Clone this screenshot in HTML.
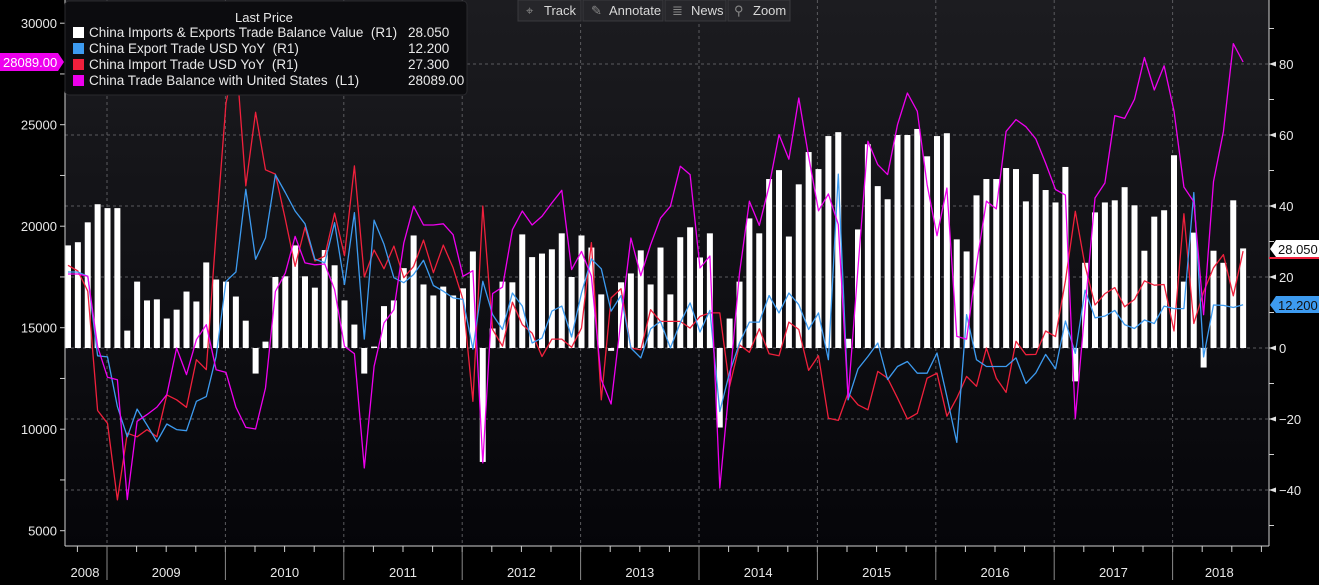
<!DOCTYPE html>
<html><head><meta charset="utf-8">
<style>
html,body{margin:0;padding:0;background:#000;}
body{width:1319px;height:580px;overflow:hidden;font-family:"Liberation Sans",sans-serif;}
svg text{font-family:"Liberation Sans",sans-serif;white-space:pre;}
</style></head>
<body>
<svg id="chart" width="1319" height="580" viewBox="0 0 1319 580" xmlns="http://www.w3.org/2000/svg">
<defs>
<linearGradient id="bg" x1="0" y1="0" x2="0" y2="1">
<stop offset="0" stop-color="#1c1c20"/><stop offset="1" stop-color="#050509"/>
</linearGradient>
</defs>
<rect x="65" y="0" width="1204" height="546" fill="url(#bg)"/>
<g id="grid"></g>
<g id="bars"></g>
<g id="lines"></g>
<g id="axes"></g>
<g>
<rect x="65" y="1" width="402" height="94" rx="4" fill="#0c0c0f" stroke="#2a2a2e"/>
<text x="235" y="22" fill="#e8e8e8" font-size="13">Last Price</text>
<rect x="73" y="27" width="11" height="11" fill="#ffffff"/>
<text x="89" y="37" fill="#e8e8e8" font-size="13.5">China Imports &amp; Exports Trade Balance Value  (R1)</text>
<text x="408" y="37" fill="#e8e8e8" font-size="13.5">28.050</text>
<rect x="73" y="43" width="11" height="11" fill="#3d9bf0"/>
<text x="89" y="53" fill="#e8e8e8" font-size="13.5">China Export Trade USD YoY  (R1)</text>
<text x="408" y="53" fill="#e8e8e8" font-size="13.5">12.200</text>
<rect x="73" y="59" width="11" height="11" fill="#f0203c"/>
<text x="89" y="69" fill="#e8e8e8" font-size="13.5">China Import Trade USD YoY  (R1)</text>
<text x="408" y="69" fill="#e8e8e8" font-size="13.5">27.300</text>
<rect x="73" y="75" width="11" height="11" fill="#ee00ee"/>
<text x="89" y="85" fill="#e8e8e8" font-size="13.5">China Trade Balance with United States  (L1)</text>
<text x="408" y="85" fill="#e8e8e8" font-size="13.5">28089.00</text>
</g>
<g font-size="13" fill="#d8d8d8">
<rect x="518" y="0" width="63" height="21" fill="#26262a" stroke="#3a3a3e"/>
<text x="526" y="15" fill="#888">⌖</text><text x="544" y="15">Track</text>
<rect x="583" y="0" width="80" height="21" fill="#26262a" stroke="#3a3a3e"/>
<text x="591" y="15" fill="#888">✎</text><text x="609" y="15">Annotate</text>
<rect x="665" y="0" width="61" height="21" fill="#26262a" stroke="#3a3a3e"/>
<text x="672" y="15" fill="#888">≣</text><text x="691" y="15">News</text>
<rect x="728" y="0" width="62" height="21" fill="#26262a" stroke="#3a3a3e"/>
<text x="734" y="15" fill="#888">⚲</text><text x="753" y="15">Zoom</text>
</g>
<g>
<polygon points="0,53 58,53 64,62 58,71 0,71" fill="#ee00ee"/>
<text x="3" y="67" fill="#ffffff" font-size="13">28089.00</text>
</g>
<g>
<line x1="1269" y1="258" x2="1319" y2="258" stroke="#f0203c" stroke-width="2"/>
<polygon points="1270,249 1276,240 1319,240 1319,257 1276,257" fill="#ffffff"/>
<text x="1278" y="254" fill="#111" font-size="13">28.050</text>
</g>
<g>
<polygon points="1270,305 1276,296 1319,296 1319,313 1276,313" fill="#3d9bf0"/>
<text x="1278" y="310" fill="#111" font-size="13">12.200</text>
</g>
</svg>
<script>
const barValues=[28.9,29.8,35.4,40.5,39.4,39.4,4.9,18.7,13.4,13.7,8.3,10.8,15.9,13.1,24.1,19.3,18.7,14.5,7.7,-7.2,1.8,20,20.2,28.9,20.2,
17,27.6,23.3,13.4,6.6,-7.2,0.4,11.8,13.4,22.5,31.7,17.9,14.8,17.3,14.8,16.8,27.2,-32.1,5.5,18.7,18.5,32,25.6,26.6,27.8,
32.3,20,31.7,28.3,15.1,-0.8,18.5,21,27.5,17.9,28.3,15.1,31.2,34,25.5,32.3,-22.4,8.3,18.7,36.5,32.3,47.6,50.1,31.4,
46.1,55.2,50.4,59.7,60.8,2.6,33.4,57.4,45.6,41.9,60,60,61.7,54,59.7,60.5,30.6,27.2,43,47.6,47.6,50.7,50.4,41.3,
49,44.5,41,51,-9.4,24,38.2,41,41.6,45.3,40.2,27.4,37,38.8,54.3,18.7,32.5,-5.5,27.4,24,41.6,28.05];
const importValues=[23.3,21.7,16,-17.6,-21.2,-42.8,-24,-25,-23,-25,-13.2,-14.6,-16.7,-3.3,-6.1,32.5,69,83,45.7,66.4,50.2,49,36.3,23,34,
24.5,25.9,38,26,51.3,20,27.6,22.3,28.7,19.8,23,30.4,21.2,29,22.6,13.6,-15,40,5.2,0.5,12.9,6.6,4.2,-2.4,2.5,
2.5,0.2,5.6,29.7,-14.6,14.1,16.7,0,-0.5,10.8,7.5,7.5,7.5,5.6,8.9,9.9,9.9,-10.8,0.9,-1.2,5.4,-1.6,-2.2,7.3,
5.2,-6.3,-2.2,-19.8,-20.4,-12.7,-16,-17.4,-6.6,-8.5,-14.1,-20,-18.4,-8.5,-7.1,-19.2,-14.1,-8,-10.8,0,-8.5,-12.5,1.9,-1.9,
-1.8,4.8,3.2,18.9,38.5,23.1,12.1,15.3,17,11.6,13.7,18.9,17.7,17.9,4.8,37.8,6.9,15.8,22.6,26.3,14.7,27.3];
const exportValues=[21.4,21.4,20.2,-2.2,-2.5,-16.5,-25,-17.2,-21.7,-26.4,-21.4,-23,-23.3,-15,-13.7,-2.4,18.8,21.4,44.7,25,31,48.8,43.8,38.6,35,
25,24,35.3,17.9,38.1,2.5,36,29.2,19.8,18.4,20.7,24.7,17.6,16,14.1,13.7,-0.3,18.8,9.4,5.2,15.5,11.8,1.4,2.8,10.4,
11.8,3.1,15.5,25.1,22.3,10.4,14.8,0,-2.8,5.4,7.5,0,7.1,12.7,4.5,10.6,-17.9,-6.9,1.4,7.3,7.3,14.8,9.9,15.5,
12.2,5.2,9.9,-3.3,49,-14.6,-5.9,-2.4,1.4,-8.9,-5.2,-3.8,-7.1,-7.1,-1.4,-13.7,-26.6,9.4,-3.3,-5.2,-5.2,-5.2,-2.8,-10,
-7,-1.8,-5.9,7.6,-1.5,16.3,8.5,9,10.6,6.6,5.5,7.9,6.9,11.8,11.1,11.1,43.8,-2.5,12.1,12,11.4,12.2];
const usBalanceValues=[17645,17645,17530,14080,12555,12440,6530,10390,10720,11090,11700,14000,12690,14410,15150,12930,12800,11090,10090,10010,12030,16790,17690,19500,18190,
18100,18140,16870,14080,13720,8090,13100,15230,15890,19170,20980,20060,20060,20120,19580,17530,17810,8340,16680,17000,19830,20750,20060,20490,21150,
21770,17860,18760,17530,12440,11240,15400,19420,17560,19090,20400,20980,22950,22540,17940,18530,7100,12280,17690,21230,20040,21970,24510,23300,
26315,23440,20760,21590,20080,11540,17940,24180,23030,22540,25000,26560,25660,22050,19530,21880,14570,14440,18100,21230,20850,24670,25250,24900,
24300,23110,21810,21530,10530,15970,21390,22130,25450,25310,26250,28310,26710,27900,25670,21930,21200,15640,22200,24660,28990,28089];
const yearLabels=["2008","2009","2010","2011","2012","2013","2014","2015","2016","2017","2018"];
const rightTicks=[80,60,40,20,0,-20,-40];
const leftTicks=[30000,25000,20000,15000,10000,5000];

const NS="http://www.w3.org/2000/svg";
function xAt(i){return 68+i*9.875;}
function yR(v){return 348-v*3.55;}
function yL(v){return 348-(v-14000)*0.0203;}
function yearX(k){return 107+118.4*k;}
function mk(tag,attrs,parent){const e=document.createElementNS(NS,tag);for(const k in attrs)e.setAttribute(k,attrs[k]);parent.appendChild(e);return e;}

const grid=document.getElementById('grid');
rightTicks.forEach(v=>{
  const l=mk('line',{x1:65,x2:1269,y1:yR(v),y2:yR(v),stroke:'#5a5a5e','stroke-dasharray':'3,3','stroke-width':1},grid);
  
  
});
for(let k=0;k<10;k++){
  const l=mk('line',{x1:yearX(k),x2:yearX(k),y1:0,y2:546,stroke:'#5a5a5e','stroke-dasharray':'3,3','stroke-width':1},grid);
  
  
}

const bars=document.getElementById('bars');
barValues.forEach((v,i)=>{
  const y0=yR(0),y1=yR(v);
  const r=mk('rect',{x:xAt(i)-3,y:Math.min(y0,y1),width:6,height:Math.max(1,Math.abs(y1-y0)),fill:'#ffffff'},bars);
  
  
});

const lines=document.getElementById('lines');
function drawLine(vals,fy,color,name){
  const d=vals.map((v,i)=>(i?'L':'M')+xAt(i).toFixed(1)+','+fy(v).toFixed(1)).join('');
  const p=mk('path',{d:d,fill:'none',stroke:color,'stroke-width':1.3,'stroke-linejoin':'round'},lines);
  
  
}
drawLine(importValues,yR,'#f0203c','import-yoy-line');
drawLine(exportValues,yR,'#3d9bf0','export-yoy-line');
drawLine(usBalanceValues,yL,'#ee00ee','us-trade-balance-line');

const axes=document.getElementById('axes');
mk('line',{x1:65,x2:65,y1:0,y2:546,stroke:'#cfcfcf'},axes);
mk('line',{x1:1269,x2:1269,y1:0,y2:546,stroke:'#cfcfcf'},axes);
mk('line',{x1:65,x2:1269,y1:546,y2:546,stroke:'#cfcfcf'},axes);
for(let v=-50;v<=90;v+=10){
  mk('line',{x1:1269,x2:1274,y1:yR(v),y2:yR(v),stroke:'#cfcfcf'},axes);
}
rightTicks.forEach(v=>{
  mk('polygon',{points:`1269,${yR(v)} 1276,${yR(v)-2.5} 1276,${yR(v)+2.5}`,fill:'#e0e0e0'},axes);
  const t=mk('text',{x:1279,y:yR(v)+5,fill:'#e8e8e8','font-size':13},axes);
  t.textContent=v<0?'\u2212'+Math.abs(v):String(v);
  
  
});
for(let v=5000;v<=30000;v+=2500){
  mk('line',{x1:60,x2:65,y1:yL(v),y2:yL(v),stroke:'#cfcfcf'},axes);
}
leftTicks.forEach(v=>{
  const t=mk('text',{x:57,y:yL(v)+5,fill:'#e8e8e8','font-size':13,'text-anchor':'end'},axes);
  t.textContent=String(v);
  
  
});
for(let q=-1;q<42;q++){
  const x=yearX(0)+q*29.6;
  if(x<66||x>1268)continue;
  mk('line',{x1:x,x2:x,y1:546,y2:552,stroke:'#cfcfcf'},axes);
}
for(let k=0;k<10;k++){
  mk('line',{x1:yearX(k),x2:yearX(k),y1:546,y2:580,stroke:'#8a8a8a'},axes);
}
yearLabels.forEach((s,k)=>{
  let cx;
  if(k===0)cx=(65+yearX(0))/2-1;
  else if(k===10)cx=(yearX(9)+1268)/2-1;
  else cx=(yearX(k-1)+yearX(k))/2;
  const t=mk('text',{x:cx,y:577,fill:'#e8e8e8','font-size':13,'text-anchor':'middle'},axes);
  t.textContent=s;
  
  
});
</script>
</body></html>
